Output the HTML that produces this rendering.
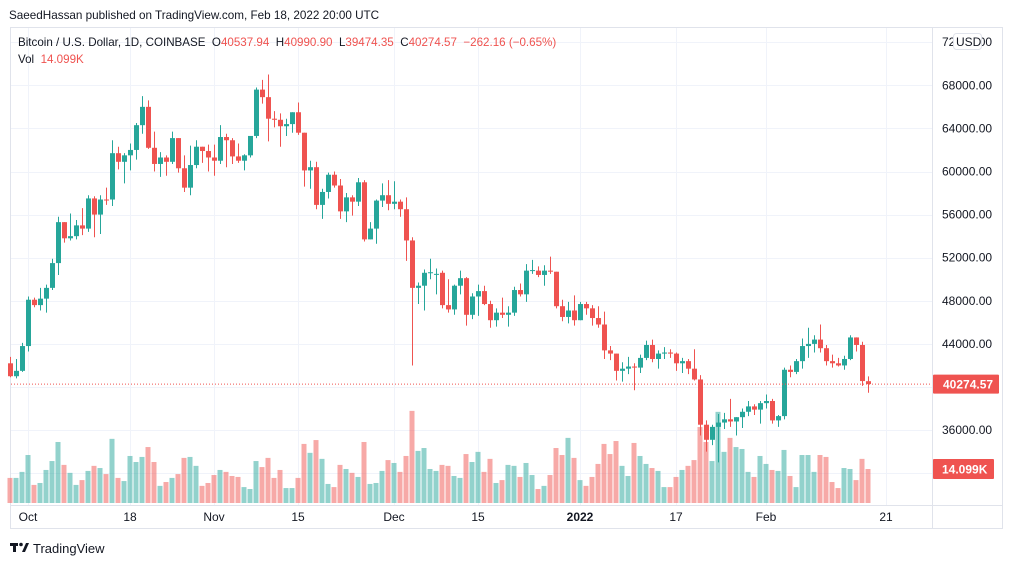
<!DOCTYPE html>
<html><head><meta charset="utf-8">
<style>
html,body{margin:0;padding:0;background:#fff;width:1012px;height:566px;overflow:hidden;font-family:"Liberation Sans",sans-serif;}
svg{position:absolute;left:0;top:0;}
text{font-family:"Liberation Sans",sans-serif;}
</style></head>
<body>
<svg id="c" width="1012" height="566"></svg>
<script>
const NS='http://www.w3.org/2000/svg';
const startDay=-3; // Sep 28 relative to Oct 1
const opens=[42.2,41.0,41.5,43.8,48.1,47.6,48.2,49.2,51.5,55.3,53.8,54.0,55.0,54.7,57.5,56.0,57.4,57.4,61.7,60.9,61.5,62.0,64.3,66.0,62.2,60.7,61.3,60.9,63.1,60.3,58.5,60.6,62.3,61.9,
61.3,61.0,63.2,62.9,61.4,61.0,61.5,63.3,67.6,66.9,64.9,64.8,64.2,64.4,65.5,63.6,60.1,60.4,56.9,58.1,59.7,58.7,56.3,57.6,57.2,59.0,53.7,54.7,57.3,57.8,
57.0,57.2,56.5,53.6,49.2,49.4,50.6,50.5,50.6,47.6,47.2,49.4,50.1,46.7,48.4,48.9,47.7,46.2,46.9,46.7,46.9,49.0,48.6,50.8,50.8,50.4,50.8,50.7,47.5,46.5,47.1,
46.2,47.7,47.3,46.4,45.8,43.4,43.1,41.5,41.7,41.9,41.8,42.7,43.9,42.6,43.1,43.2,43.1,42.2,42.4,41.7,40.7,36.5,35.1,36.3,36.7,37.0,36.8,37.2,37.7,38.2,37.9,
38.5,38.7,36.9,37.3,41.6,41.4,42.4,43.8,44.0,44.4,43.6,42.4,42.2,42.0,42.6,44.6,43.9,40.54];
const highs=[42.8,42.6,44.1,48.4,48.3,49.2,49.5,51.9,55.8,55.3,56.1,55.5,56.6,57.8,57.7,57.8,58.5,62.9,62.3,61.7,62.6,64.5,67.0,66.6,63.7,61.8,61.5,63.7,63.1,61.5,62.4,62.9,62.3,62.5,
62.5,64.3,63.5,63.1,62.6,61.6,63.3,67.8,68.5,69.0,65.6,65.4,64.9,65.5,66.4,63.6,61.0,60.9,58.4,59.9,60.0,59.3,58.0,57.8,59.4,59.2,55.3,57.4,58.9,59.2,
59.1,57.4,57.6,53.9,49.7,50.9,51.9,51.0,50.8,50.0,49.5,50.8,50.2,48.7,49.5,49.4,48.0,47.3,48.3,47.5,49.3,49.6,51.4,51.8,51.2,51.3,52.1,50.7,48.1,47.9,48.5,
47.9,47.9,47.6,47.5,47.0,43.8,43.1,42.3,42.8,42.2,43.0,44.3,44.4,43.4,43.7,43.5,43.2,42.7,42.6,43.5,41.1,36.9,36.5,37.5,37.6,38.9,37.2,38.0,38.7,38.4,38.7,
39.3,38.9,37.4,41.8,42.0,42.6,44.5,45.5,44.8,45.8,43.9,43.0,42.7,42.9,44.8,44.6,44.2,40.99];
const lows=[40.9,40.8,41.4,43.3,47.4,47.1,46.9,49.0,50.4,53.4,53.6,53.7,54.1,54.4,53.9,54.2,56.9,56.8,60.2,58.9,60.1,61.1,63.5,62.1,60.0,59.5,59.6,60.7,59.9,58.1,57.8,60.3,60.8,60.0,
59.6,60.7,60.4,60.7,60.8,60.1,61.3,63.1,66.3,62.8,64.1,62.3,63.3,63.6,63.4,58.6,58.4,56.5,55.6,57.5,58.5,55.6,55.3,55.9,56.8,53.5,53.7,53.3,56.7,56.4,
56.5,55.8,51.7,42.0,47.7,47.1,50.0,48.6,47.3,46.9,46.7,48.6,45.7,46.3,46.6,47.6,45.5,45.6,46.4,45.6,46.6,48.4,47.9,50.5,50.2,49.4,50.5,47.3,46.1,45.9,45.7,
46.2,46.7,45.7,45.5,42.6,42.5,40.6,40.5,41.2,39.7,41.3,42.5,42.3,41.7,42.6,42.7,41.5,41.3,41.2,40.6,35.5,34.0,34.6,33.0,36.1,36.3,35.5,36.2,37.3,37.4,36.6,
38.0,36.6,36.3,37.0,40.9,41.2,41.7,42.7,43.2,43.2,42.0,41.8,41.9,41.6,42.5,43.3,40.1,39.47];
const closes=[41.0,41.5,43.8,48.1,47.6,48.2,49.2,51.5,55.3,53.8,54.0,55.0,54.7,57.5,56.0,57.4,57.35,61.7,60.9,61.5,62.0,64.3,66.0,62.2,60.7,61.3,60.9,63.1,60.3,58.5,60.6,62.3,61.9,61.3,
61.0,63.2,62.9,61.4,61.0,61.5,63.3,67.6,66.9,64.9,64.8,64.2,64.4,65.5,63.6,60.1,60.4,56.9,58.1,59.7,58.7,56.3,57.6,57.2,59.0,53.7,54.7,57.3,57.8,57.0,
57.2,56.5,53.6,49.2,49.4,50.6,50.65,50.5,47.6,47.2,49.4,50.1,46.7,48.4,48.9,47.7,46.2,46.9,46.7,46.9,49.0,48.6,50.8,50.85,50.4,50.8,50.7,47.5,46.5,47.1,46.2,
47.7,47.3,46.4,45.8,43.4,43.1,41.5,41.7,41.9,41.8,42.7,43.9,42.6,43.1,43.2,43.1,42.2,42.4,41.7,40.7,36.5,35.1,36.3,36.7,37.0,36.8,37.2,37.7,38.2,37.9,38.5,
38.7,36.9,37.3,41.6,41.4,42.4,43.8,44.0,44.4,43.6,42.4,42.2,42.0,42.6,44.6,43.9,40.55,40.27];
const volumes=[10.4,10.4,12.9,19.9,7.5,8.3,13.7,17.4,25.3,15.8,12.5,7.5,9.5,13.3,15.4,14.5,12.0,26.6,10.4,9.1,19.5,17.0,19.1,23.2,17.0,7.1,8.7,10.4,12.0,18.7,19.1,15.4,7.1,8.3,
11.6,13.7,12.9,11.2,10.8,6.6,5.8,17.4,14.9,18.7,10.4,13.7,6.2,6.2,10.4,24.5,20.8,26.1,18.3,7.9,6.6,15.8,14.1,12.5,10.8,25.3,7.9,8.3,13.3,17.8,
16.6,12.9,19.5,38.2,21.6,22.8,14.1,13.3,15.8,15.4,11.2,10.4,20.3,17.0,21.2,12.9,18.3,8.3,9.5,15.8,15.4,10.8,16.6,11.6,5.8,7.1,11.6,22.8,19.9,27.0,18.7,
9.5,7.1,10.8,16.2,24.5,20.3,25.7,15.4,11.2,24.9,19.5,16.2,14.5,13.3,6.6,6.6,10.8,13.7,15.4,17.8,31.5,25.3,17.4,37.8,21.2,27.0,23.2,22.4,12.9,10.8,19.5,
16.2,13.7,13.3,22.0,11.2,6.6,19.9,19.9,12.9,19.9,19.1,8.7,6.2,14.5,14.1,9.5,18.3,14.099];
const priceTicks=[36000,44000,48000,52000,56000,60000,64000,68000];
const timeLabels=['Oct','18','Nov','15','Dec','15','2022','17','Feb','21'];
const timeDays=[0,17,31,45,61,75,92,108,123,143];

const svg=document.getElementById('c');
function el(tag,attrs,parent){const e=document.createElementNS(NS,tag);for(const k in attrs)e.setAttribute(k,attrs[k]);(parent||svg).appendChild(e);return e;}
const yP=p=>387-(p-40)*10.775; // p in thousands
const xD=d=>28+d*6;
const yV=v=>503-v/14.099*34;
const G='#26a69a',R='#ef5350';

let f=el('rect',{x:10.5,y:27.5,width:992,height:501,fill:'none',stroke:'#e0e3eb'});

const grid=el('g',{stroke:'#f0f3fa','stroke-width':1});

for(let p=32000;p<=72000;p+=4000){const y=Math.round(yP(p/1000))+0.5;el('line',{x1:11,x2:932,y1:y,y2:y},grid);}
timeDays.forEach(d=>{const x=Math.round(xD(d))+0.5;el('line',{x1:x,x2:x,y1:28,y2:505},grid);});
let a1=el('line',{x1:932.5,x2:932.5,y1:28,y2:528,stroke:'#e0e3eb'});
let a2=el('line',{x1:11,x2:1002,y1:505.5,y2:505.5,stroke:'#e0e3eb'});

const vg=el('g',{});
volumes.forEach((v,i)=>{const x=xD(i+startDay);const up=closes[i]>=opens[i];
 const r=el('rect',{x:x-2.5,y:yV(v),width:5,height:503-yV(v),fill:up?G:R,'fill-opacity':0.5},vg);
 
 });
const cg=el('g',{});
opens.forEach((o,i)=>{const x=Math.round(xD(i+startDay));const c=closes[i];const col=c>=o?G:R;
 const g=el('g',{},cg);
 
 
 el('line',{x1:x+0.5,x2:x+0.5,y1:yP(highs[i]),y2:yP(lows[i]),stroke:col,'stroke-width':1},g);
 const t=Math.min(yP(o),yP(c)),h=Math.max(1,Math.abs(yP(o)-yP(c)));
 el('rect',{x:x-2,y:t,width:5,height:h,fill:col},g);});
const lp=el('line',{x1:11,x2:932,y1:yP(closes[closes.length-1]),y2:yP(closes[closes.length-1]),stroke:R,'stroke-dasharray':'1 2'});


priceTicks.forEach(p=>{const t=el('text',{x:942,y:yP(p/1000)+4,'font-size':12,fill:'#131722'});t.textContent=p.toFixed(2);
 
 });
let t72=el('text',{x:942,y:46,'font-size':12,fill:'#131722'});t72.textContent='72000.00';
let ub=el('rect',{x:953.5,y:33.5,width:28,height:16,rx:3,fill:'#fff',stroke:'#e0e3eb'});
let ut=el('text',{x:956,y:46,'font-size':12,fill:'#131722'});ut.textContent='USD';
const ly=yP(closes[closes.length-1]);
let lb=el('rect',{x:933,y:ly-9.5,width:66,height:19,fill:R,rx:1});
let lt=el('text',{x:943,y:ly+4.5,'font-size':12,'font-weight':'bold',fill:'#fff'});lt.textContent='40274.57';
const vy=yV(volumes[volumes.length-1]);
let vb=el('rect',{x:933,y:vy-10,width:61,height:20,fill:R,rx:1});
let vt=el('text',{x:942,y:vy+4.5,'font-size':12,'font-weight':'bold',fill:'#fff'});vt.textContent='14.099K';
timeLabels.forEach((s,i)=>{const t=el('text',{x:xD(timeDays[i]),y:521,'font-size':12,fill:'#131722','text-anchor':'middle','font-weight':s==='2022'?'bold':'normal'});t.textContent=s;
 
 });

function txt(x,y,s,fill,name,size){const t=el('text',{x:x,y:y,'font-size':size||12,fill:fill});t.textContent=s;return t;}
txt(9,19,'SaeedHassan published on TradingView.com, Feb 18, 2022 20:00 UTC','#131722','publish-info',11.7);
const leg=el('text',{x:18,y:46,'font-size':11.6,fill:'#131722'});
leg.innerHTML='Bitcoin / U.S. Dollar, 1D, COINBASE\u00a0 O<tspan fill="#ef5350">40537.94</tspan>\u00a0 H<tspan fill="#ef5350">40990.90</tspan>\u00a0 L<tspan fill="#ef5350">39474.35</tspan>\u00a0 C<tspan fill="#ef5350">40274.57</tspan>\u00a0 <tspan fill="#ef5350">−262.16 (−0.65%)</tspan>';
const vl=el('text',{x:18,y:63,'font-size':11.6,fill:'#131722'});
vl.innerHTML='Vol\u00a0 <tspan fill="#ef5350">14.099K</tspan>';
const lg=el('g',{});
el('rect',{x:10,y:543,width:8,height:3,fill:'#131722'},lg);
el('rect',{x:13,y:543,width:3,height:9,fill:'#131722'},lg);
el('circle',{cx:21,cy:544.5,r:1.8,fill:'#131722'},lg);
el('path',{d:'M22 552 L26 543 L29 543 L25 552 Z',fill:'#131722'},lg);
const lgt=el('text',{x:33,y:553,'font-size':13,fill:'#131722'},lg);lgt.textContent='TradingView';
</script>
</body></html>
